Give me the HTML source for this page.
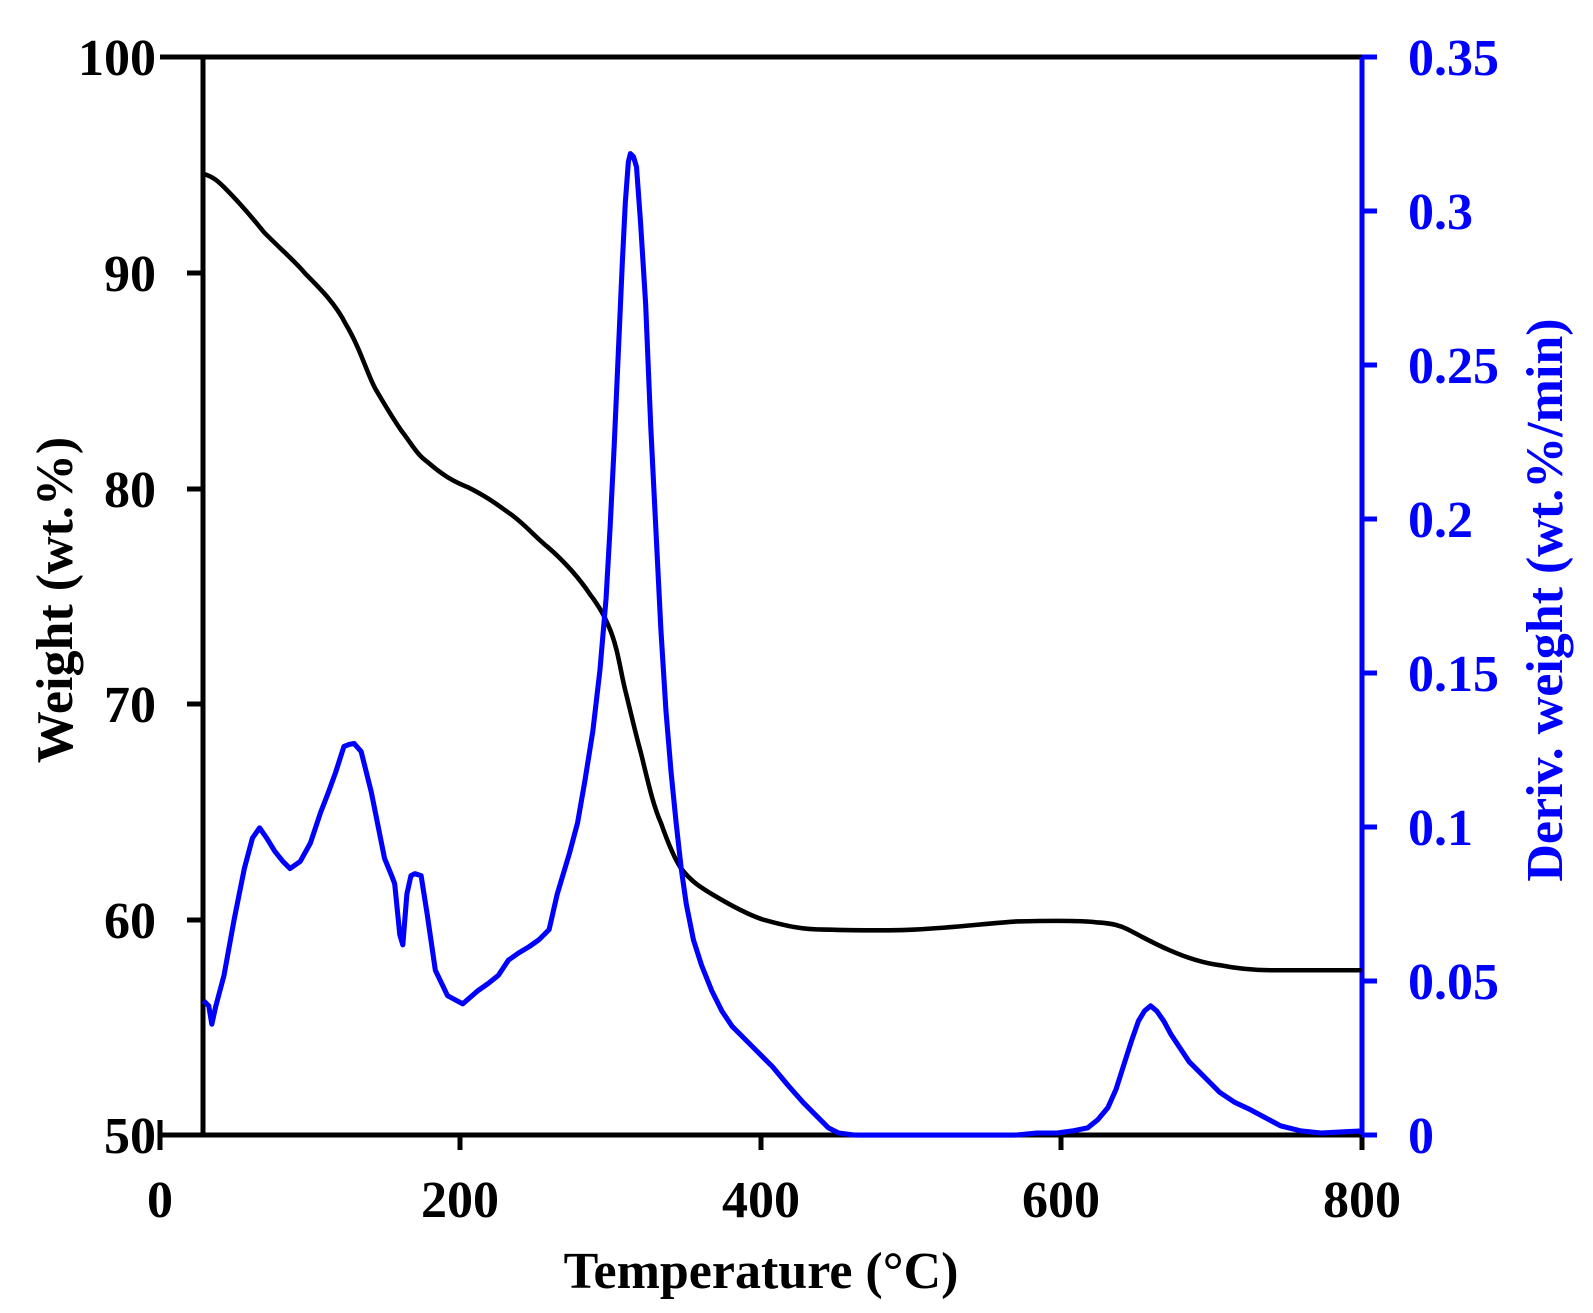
<!DOCTYPE html>
<html><head><meta charset="utf-8"><style>
html,body{margin:0;padding:0;background:#fff;}
svg{display:block;}
text{font-family:"Liberation Serif",serif;font-weight:bold;}
</style></head><body>
<svg width="1593" height="1313" viewBox="0 0 1593 1313" xmlns="http://www.w3.org/2000/svg">
<line x1="160" y1="57" x2="1362" y2="57" stroke="#000" stroke-width="5"/>
<line x1="160" y1="1135" x2="1362" y2="1135" stroke="#000" stroke-width="5"/>
<line x1="203" y1="57" x2="203" y2="1135" stroke="#000" stroke-width="5"/>
<line x1="1362" y1="57" x2="1362" y2="1135" stroke="#00f" stroke-width="5"/>
<g stroke="#000" stroke-width="5">
<line x1="187" y1="273" x2="203" y2="273"/><line x1="187" y1="489" x2="203" y2="489"/>
<line x1="187" y1="704" x2="203" y2="704"/><line x1="187" y1="920" x2="203" y2="920"/>
<line x1="160" y1="1120" x2="160" y2="1150"/>
<line x1="460" y1="1135" x2="460" y2="1150"/><line x1="761" y1="1135" x2="761" y2="1150"/>
<line x1="1061" y1="1135" x2="1061" y2="1150"/><line x1="1362" y1="1135" x2="1362" y2="1150"/>
</g>
<g stroke="#00f" stroke-width="5">
<line x1="1362" y1="57" x2="1377" y2="57"/><line x1="1362" y1="211" x2="1377" y2="211"/>
<line x1="1362" y1="365" x2="1377" y2="365"/><line x1="1362" y1="519" x2="1377" y2="519"/>
<line x1="1362" y1="673" x2="1377" y2="673"/><line x1="1362" y1="827" x2="1377" y2="827"/>
<line x1="1362" y1="981" x2="1377" y2="981"/><line x1="1362" y1="1135" x2="1377" y2="1135"/>
</g>
<g font-size="52" text-anchor="end" fill="#000">
<text x="156" y="75">100</text><text x="156" y="291">90</text><text x="156" y="507">80</text>
<text x="156" y="722">70</text><text x="156" y="938">60</text><text x="156" y="1153">50</text>
</g>
<g font-size="52" text-anchor="middle" fill="#000">
<text x="160" y="1217">0</text><text x="460" y="1217">200</text><text x="761" y="1217">400</text>
<text x="1061" y="1217">600</text><text x="1362" y="1217">800</text>
</g>
<g font-size="52" fill="#00f">
<text x="1408" y="75">0.35</text><text x="1408" y="229">0.3</text><text x="1408" y="383">0.25</text>
<text x="1408" y="537">0.2</text><text x="1408" y="691">0.15</text><text x="1408" y="845">0.1</text>
<text x="1408" y="999">0.05</text><text x="1408" y="1153">0</text>
</g>
<text x="761" y="1288" font-size="52" text-anchor="middle" fill="#000">Temperature (°C)</text>
<text transform="translate(72,600) rotate(-90)" font-size="52" text-anchor="middle" fill="#000">Weight (wt.%)</text>
<text transform="translate(1562,600) rotate(-90)" font-size="52" text-anchor="middle" fill="#00f">Deriv. weight (wt.%/min)</text>
<g transform="translate(160,57) scale(1.016,1.017) translate(-157,-57)" fill="none" stroke-linejoin="round">
<path stroke="#000" stroke-width="4.5" d="M200,172 C210,175 215,180 220,185 C240,205 250,218 260,230 C280,250 290,258 300,270 C315,285 330,300 340,320 C355,345 362,372 370,385 C380,402 390,418 395,425 C405,438 410,448 420,455 C435,468 445,474 460,480 C480,490 490,498 500,505 C515,515 525,528 540,540 C555,553 570,570 580,585 C590,598 595,608 600,620 C608,640 610,660 615,680 C620,700 625,722 630,740 C637,768 642,792 650,810 C657,830 663,845 670,855 C680,868 690,874 700,880 C720,892 735,900 750,905 C775,912 790,915 810,915 C850,916 880,916 900,915 C940,913 970,909 1000,907 C1040,906 1065,906 1080,908 C1095,909 1102,911 1110,915 C1125,923 1138,930 1150,935 C1168,943 1185,948 1200,950 C1220,954 1235,955 1250,955 L1340,955"/>
<path stroke="#00f" stroke-width="5" d="M200,985 L205,990 L208,1008 L212,990 L220,960 L230,905 L240,855 L248,825 L255,815 L262,825 L270,838 L278,848 L285,855 L295,848 L305,830 L315,800 L322,782 L330,760 L338,735 L343,733 L348,732 L355,740 L365,780 L372,815 L378,845 L385,862 L388,870 L393,920 L396,930 L400,880 L404,862 L408,860 L414,862 L420,900 L428,955 L440,980 L455,988 L470,975 L480,968 L490,960 L500,945 L510,938 L520,932 L530,925 L540,915 L548,880 L560,840 L568,810 L575,770 L583,720 L590,660 L596,590 L600,520 L604,440 L608,350 L612,260 L615,200 L618,160 L620,152 L623,155 L626,165 L630,220 L635,300 L640,420 L645,520 L650,620 L655,700 L660,760 L665,810 L670,855 L675,890 L682,925 L690,950 L700,975 L710,995 L720,1010 L730,1020 L745,1035 L760,1050 L775,1068 L790,1085 L800,1095 L815,1110 L825,1115 L840,1117 L1000,1117 L1020,1115 L1040,1115 L1055,1113 L1070,1110 L1080,1102 L1090,1090 L1098,1072 L1105,1050 L1113,1025 L1120,1005 L1126,995 L1132,990 L1138,995 L1145,1005 L1152,1018 L1160,1030 L1170,1045 L1180,1055 L1190,1065 L1200,1075 L1215,1085 L1230,1092 L1245,1100 L1260,1108 L1280,1113 L1300,1115 L1320,1114 L1340,1113"/>
</g>
</svg>
</body></html>
